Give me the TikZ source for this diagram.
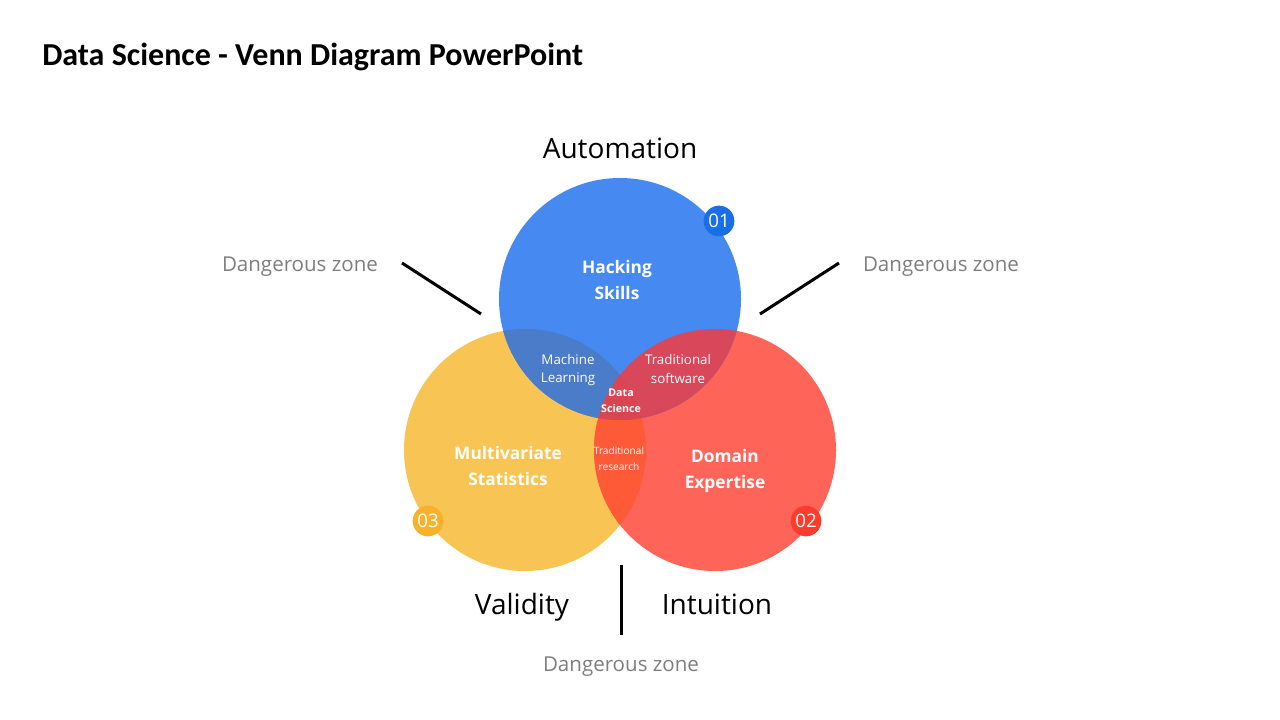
\documentclass[tikz,border=0pt]{standalone}
\usepackage{fontspec}
\setmainfont{Open Sans}
\newfontfamily\calibri{Carlito}
\usepackage{xcolor}
\definecolor{hackblue}{HTML}{4689F0}
\definecolor{statyellow}{HTML}{F8C454}
\definecolor{domred}{HTML}{FF6459}
\definecolor{mlblue}{HTML}{4A7CCA}
\definecolor{swred}{HTML}{D8485A}
\definecolor{resorange}{HTML}{FF5A38}
\definecolor{dsred}{HTML}{D94652}
\definecolor{badgeblue}{HTML}{1A6EE8}
\definecolor{badgered}{HTML}{FF3B2E}
\definecolor{badgeyellow}{HTML}{F7B12A}
\definecolor{zonegray}{HTML}{7F7F7F}

\begin{document}
\begin{tikzpicture}[x=0.75pt,y=-0.75pt,
  ring/.style={radius=90.75pt},
  badge/.style={circle,minimum size=23pt,inner sep=0pt,text=white,font=\fontsize{14}{16}\selectfont},
  head/.style={anchor=base,font=\fontsize{21}{25}\selectfont},
  zone/.style={text=zonegray,font=\fontsize{15.4}{18}\selectfont},
  big/.style={text=white,align=center,font=\fontsize{13}{19.5}\selectfont\bfseries},
  small/.style={text=white,align=center,font=\fontsize{10}{14}\selectfont},
  tiny/.style={text=white,align=center,font=\fontsize{7.6}{12}\selectfont},
  tick/.style={line width=2.25pt}]
  \useasboundingbox[fill=white] (0,0) rectangle (1280,720);
  \node[anchor=west,inner sep=0pt,font=\calibri\bfseries\fontsize{24}{28}\selectfont] (title) at (42,57) {Data Science - Venn Diagram PowerPoint};
  % circles
  \coordinate (b) at (620,299);
  \coordinate (y) at (525,450);
  \coordinate (r) at (715,450);
  \fill[statyellow] (y) circle[ring];
  \fill[domred] (r) circle[ring];
  \fill[hackblue] (b) circle[ring];
  % overlaps
  \begin{scope}\clip (y) circle[ring]; \fill[mlblue] (b) circle[ring]; \fill[resorange] (r) circle[ring];\end{scope}
  \begin{scope}\clip (r) circle[ring]; \fill[swred] (b) circle[ring];\end{scope}
  \begin{scope}\clip (y) circle[ring]; \clip (r) circle[ring]; \fill[dsred] (b) circle[ring];\end{scope}
  % badges
  \node[badge,fill=badgeblue] (n1) at (719,221) {01};
  \node[badge,fill=badgered] (n2) at (806,521) {02};
  \node[badge,fill=badgeyellow] (n3) at (428,521) {03};
  % labels
  \node[big] (hack) at (617,280) {Hacking\\Skills};
  \node[big] (stat) at (508,466) {Multivariate\\Statistics};
  \node[big] (dom) at (725,471) {Domain\\Expertise};
  \node[small] (ml) at (568,370) {Machine\\Learning};
  \node[small] (sw) at (678,369) {Traditional\\software};
  \node[tiny,font=\fontsize{8}{12}\selectfont\bfseries] (ds) at (621,401) {Data\\Science};
  \node[tiny] (res) at (619,459) {Traditional\\research};
  \node[head] (auto) at (620,159) {Automation};
  \node[head] (val) at (522,614) {Validity};
  \node[head] (int) at (717,614) {Intuition};
  \node[zone] (z1) at (300,267) {Dangerous zone};
  \node[zone] (z2) at (941,267) {Dangerous zone};
  \node[zone] (z3) at (621,667) {Dangerous zone};
  % ticks
  \coordinate (t1a) at (402,263); \coordinate (t1b) at (481,314);
  \coordinate (t2a) at (839,263); \coordinate (t2b) at (760,314);
  \coordinate (t3a) at (621,565); \coordinate (t3b) at (621,635);
  \draw[tick] (t1a) -- (t1b);
  \draw[tick] (t2a) -- (t2b);
  \draw[tick] (t3a) -- (t3b);
\end{tikzpicture}
\end{document}
